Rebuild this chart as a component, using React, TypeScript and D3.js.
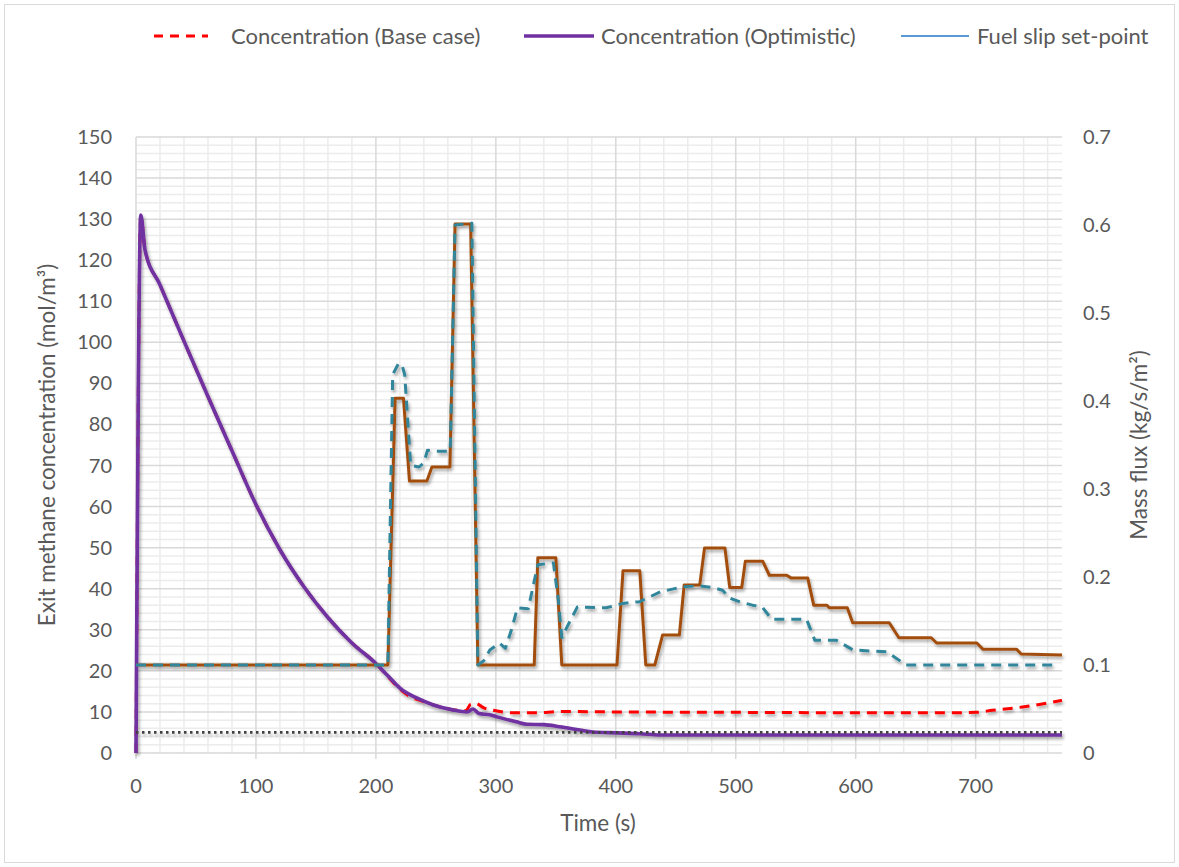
import React from "react";
import * as d3 from "d3";

// ---- Data ----
const xTicks = [0, 100, 200, 300, 400, 500, 600, 700];
const leftTicks = [0, 10, 20, 30, 40, 50, 60, 70, 80, 90, 100, 110, 120, 130, 140, 150];
const rightTicks = [0, 0.1, 0.2, 0.3, 0.4, 0.5, 0.6, 0.7];

// Concentration (Optimistic) [time s, mol/m3]
const optimisticT = [0, 4, 7.5, 20, 40, 60, 80, 100, 120, 140, 160, 180, 200, 210, 220, 234, 248, 264, 276, 281, 286, 295, 301, 317, 326, 340, 353, 370, 381, 401, 420, 437, 500, 600, 700, 772];
const optimisticV = [0, 131, 122.5, 114, 100.3, 86.8, 73.6, 60.5, 49.5, 40.5, 33, 26.8, 21.8, 18.8, 15.8, 13.4, 11.7, 10.5, 10, 10.7, 9.6, 9.3, 8.8, 7.6, 7, 6.9, 6.4, 5.6, 5.1, 4.9, 4.7, 4.4, 4.4, 4.4, 4.4, 4.4];

// Concentration (Base case)
const baseT = [0, 4, 7.5, 20, 40, 60, 80, 100, 120, 140, 160, 180, 200, 210, 215, 225, 240, 255, 268, 275, 279, 283, 290, 298, 314, 334, 353, 400, 500, 600, 680, 700, 714, 739, 772];
const baseV = [0, 131, 122.5, 114, 100.3, 86.8, 73.6, 60.5, 49.5, 40.5, 33, 26.8, 21.8, 18.6, 17, 14.4, 12.5, 11.1, 10.4, 10.3, 11.9, 12.1, 11, 10.4, 9.8, 9.8, 10.1, 10, 9.9, 9.8, 9.8, 9.9, 10.4, 11.2, 12.8];

// Fuel slip set-point (mol/m3)
const setPointT = [0, 772];
const setPointV = [5, 5];

// Mass flux, optimistic (kg/s/m2)
const fluxOptT = [0, 210, 216, 223, 228, 242.5, 246.7, 261.7, 266, 279, 285, 332, 335, 350, 355, 401, 406, 420, 425, 432.5, 439, 453, 457, 470, 474, 491, 495, 505, 508, 522.5, 528, 542.5, 546, 560, 565, 576, 578, 593, 597.5, 628, 636, 663, 667.5, 701, 706, 734, 738, 772];
const fluxOptV = [0.1, 0.1, 0.403, 0.403, 0.309, 0.309, 0.325, 0.325, 0.601, 0.601, 0.1, 0.1, 0.222, 0.222, 0.1, 0.1, 0.207, 0.207, 0.1, 0.1, 0.134, 0.134, 0.191, 0.191, 0.233, 0.233, 0.188, 0.188, 0.218, 0.218, 0.202, 0.202, 0.199, 0.199, 0.168, 0.168, 0.165, 0.165, 0.148, 0.148, 0.131, 0.131, 0.125, 0.125, 0.118, 0.118, 0.1125, 0.1115];

// Mass flux, base case (kg/s/m2)
const fluxBaseT = [0, 210, 214, 219, 222, 224, 229, 236, 240, 243, 250, 262, 266, 280, 285, 290, 295, 303, 308, 313, 318, 327, 335, 348, 352, 355, 360, 368, 392, 406, 420, 437, 456, 470, 481, 489, 495, 503, 514, 522, 530, 559, 566, 584, 598, 626, 642, 768];
const fluxBaseV = [0.1, 0.1, 0.43, 0.443, 0.44, 0.43, 0.327, 0.325, 0.33, 0.344, 0.343, 0.343, 0.6, 0.602, 0.1, 0.105, 0.117, 0.125, 0.119, 0.14, 0.165, 0.164, 0.214, 0.216, 0.175, 0.131, 0.145, 0.166, 0.165, 0.17, 0.172, 0.183, 0.189, 0.19, 0.188, 0.185, 0.176, 0.172, 0.168, 0.166, 0.152, 0.152, 0.128, 0.128, 0.117, 0.115, 0.1, 0.1];

const legendItems = ["Concentration (Base case)", "Concentration (Optimistic)", "Fuel slip set-point"];

// ---- Layout ----
const W = 1179;
const H = 867;
const PL = 136, PR = 1062, PT = 137, PB = 753;
const FONT = "Lato, 'Open Sans', sans-serif";
const TXT = "#595959";

const x = d3.scaleLinear().domain([0, 772]).range([PL, PR]);
const yL = d3.scaleLinear().domain([0, 150]).range([PB, PT]);
const yR = d3.scaleLinear().domain([0, 0.7]).range([PB, PT]);

function zip(t: number[], v: number[]) {
  return t.map((tt, i) => [tt, v[i]] as [number, number]);
}

const lineL = d3.line<[number, number]>().x(d => x(d[0])).y(d => yL(d[1]));
const lineLs = d3.line<[number, number]>().x(d => x(d[0])).y(d => yL(d[1])).curve(d3.curveMonotoneX);
const lineR = d3.line<[number, number]>().x(d => x(d[0])).y(d => yR(d[1]));

export default function App() {
  const minorX = d3.range(0, 773, 20).filter(v => v % 100 !== 0);
  const minorY = d3.range(0, 151, 2).filter(v => v % 10 !== 0);
  return (
    <div style={{ position: "absolute", left: 0, top: 0 }}>
      <svg width={W} height={H} style={{ display: "block", background: "#fff" }} fontFamily={FONT}>
        <defs>
          <filter id="sh" x="-10%" y="-10%" width="120%" height="130%">
            <feDropShadow dx="1.5" dy="2.5" stdDeviation="1.6" floodColor="#000" floodOpacity="0.35" />
          </filter>
        </defs>
        <rect x={4.5} y={4.5} width={W - 9} height={H - 9} fill="#fff" stroke="#d9d9d9" strokeWidth={1} />

        {/* gridlines */}
        <g>
          {minorY.map(v => (
            <line key={"my" + v} x1={PL} x2={PR} y1={yL(v)} y2={yL(v)} stroke="#ececec" strokeWidth={1.5} />
          ))}
          {minorX.map(v => (
            <line key={"mx" + v} x1={x(v)} x2={x(v)} y1={PT} y2={PB} stroke="#ececec" strokeWidth={1.5} />
          ))}
          {leftTicks.map(v => (
            <line key={"gy" + v} x1={PL} x2={PR} y1={yL(v)} y2={yL(v)} stroke="#d9d9d9" strokeWidth={1.5} />
          ))}
          {xTicks.map(v => (
            <line key={"gx" + v} x1={x(v)} x2={x(v)} y1={PT} y2={PB + 6} stroke="#d9d9d9" strokeWidth={1.5} />
          ))}
        </g>

        {/* data lines */}
        <g fill="none" filter="url(#sh)">
          <path d={lineLs(zip(baseT, baseV)) || ""} stroke="#ff0000" strokeWidth={3} strokeDasharray="10 7" />
          <path d={lineLs(zip(optimisticT, optimisticV)) || ""} stroke="#7030a0" strokeWidth={3.6} />
          <path d={lineR(zip(fluxOptT, fluxOptV)) || ""} stroke="#a24e0c" strokeWidth={3} strokeLinejoin="round" />
          <path d={lineR(zip(fluxBaseT, fluxBaseV)) || ""} stroke="#31869b" strokeWidth={3} strokeDasharray="10 7" strokeLinejoin="round" />
          <path d={lineL(zip(setPointT, setPointV)) || ""} stroke="#404040" strokeWidth={2.8} strokeDasharray="2.5 3.5" />
        </g>

        {/* axes labels */}
        <g fill={TXT} fontSize={20}>
          {xTicks.map(v => (
            <text key={"xt" + v} x={x(v)} y={793} textAnchor="middle">{v}</text>
          ))}
          {leftTicks.map(v => (
            <text key={"lt" + v} x={112} y={yL(v) + 7} textAnchor="end">{v}</text>
          ))}
          {rightTicks.map(v => (
            <text key={"rt" + v} x={1083} y={yR(v) + 7} textAnchor="start">{v === 0 ? "0" : v.toFixed(1)}</text>
          ))}
        </g>
        <g fill={TXT} fontSize={22.5}>
          <text x={598} y={831} textAnchor="middle">Time (s)</text>
          <text transform={`translate(55, ${(PT + PB) / 2}) rotate(-90)`} textAnchor="middle">Exit methane concentration (mol/m³)</text>
          <text transform={`translate(1147, ${(PT + PB) / 2}) rotate(-90)`} textAnchor="middle">Mass flux (kg/s/m²)</text>
        </g>

        {/* legend */}
        <g fontSize={22} fill={TXT}>
          <line x1={154} x2={208} y1={36} y2={36} stroke="#ff0000" strokeWidth={3} strokeDasharray="9 7" />
          <text x={231} y={44}>{legendItems[0]}</text>
          <line x1={524} x2={594} y1={36} y2={36} stroke="#7030a0" strokeWidth={3.6} />
          <text x={601} y={44}>{legendItems[1]}</text>
          <line x1={901} x2={969} y1={36} y2={36} stroke="#5b9bd5" strokeWidth={2} />
          <text x={977} y={44}>{legendItems[2]}</text>
        </g>
      </svg>
    </div>
  );
}
